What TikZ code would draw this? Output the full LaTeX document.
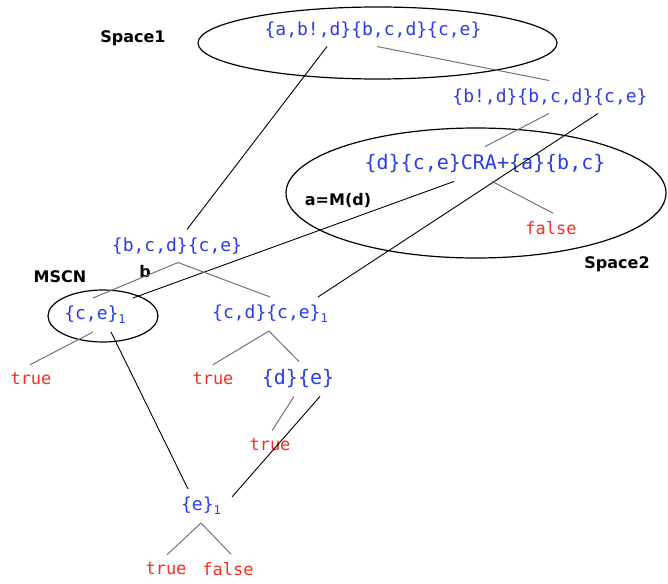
\documentclass[tikz,border=0pt]{standalone}
\usepackage{fontspec}
\newfontfamily\monofam{DejaVu Sans Mono}
\newfontfamily\tagfam{DejaVu Sans}
\definecolor{setblue}{RGB}{40,60,235}
\definecolor{valred}{RGB}{250,45,30}
\newcommand{\subone}{\raisebox{-4pt}{\fontsize{12}{12}\selectfont 1}}

\begin{document}
\begin{tikzpicture}[
            x=1pt, y=-1pt,
            set/.style={text=setblue, font=\monofam\fontsize{18}{20}\selectfont, inner xsep=0pt, inner ysep=8pt},
            big/.style={set, font=\monofam\fontsize{20}{22}\selectfont},
            val/.style={text=valred, font=\monofam\fontsize{17}{19}\selectfont, inner xsep=0pt, inner ysep=8pt},
            tag/.style={font=\tagfam\bfseries\fontsize{16}{18}\selectfont, inner sep=0pt},
            region/.style={draw, line width=1.2pt},
            branch/.style={draw=black!55, line width=1pt},
            jump/.style={draw, line width=0.9pt}
        ]
        \useasboundingbox (0,0) rectangle (668,583);

        \draw[region] (377.5,43) ellipse [x radius=179.5pt, y radius=36pt];
        \draw[region] (476,193) ellipse [x radius=190pt, y radius=65pt];
        \draw[region] (103,316) ellipse [x radius=55pt, y radius=26pt];

        \node[tag] (sp1) at (133,38) {Space1};
        \node[tag] (sp2) at (617,264) {Space2};
        \node[tag] (mscn) at (60,277) {MSCN};
        \node[tag] (lb) at (145,272) {b};
        \node[tag] (lm) at (338,200) {a=M(d)};

        \node[set] (top) at (373,30) {\{a,b!,d\}\{b,c,d\}\{c,e\}};
        \node[set] (bd) at (550,97) {\{b!,d\}\{b,c,d\}\{c,e\}};
        \node[big] (cra) at (485,164) {\{d\}\{c,e\}CRA+\{a\}\{b,c\}};
        \node[val] (f1) at (551,228) {false};
        \node[set] (bcd) at (177,246) {\{b,c,d\}\{c,e\}};
        \node[set] (ce) at (95,315) {\{c,e\}\subone};
        \node[set] (cdce) at (270,314) {\{c,d\}\{c,e\}\subone};
        \node[val] (t1) at (31,379) {true};
        \node[val] (t2) at (213,379) {true};
        \node[big] (de) at (298,379) {\{d\}\{e\}};
        \node[val] (t3) at (270,445) {true};
        \node[set] (e1) at (201,506) {\{e\}\subone};
        \node[val] (t4) at (166,569) {true};
        \node[val] (f2) at (228,569) {false};

        \draw[jump] ([xshift=-46pt]top.south) -- ([xshift=10pt]bcd.north);
        \draw[branch] ([xshift=4pt]top.south) -- ([xshift=-1pt]bd.north);
        \draw[branch] ([xshift=-1pt]bd.south) -- (cra.north);
        \draw[jump] ([xshift=48pt]bd.south) -- ([xshift=48pt]cdce.north);
        \draw[jump] ([xshift=-31pt]cra.south) -- ([xshift=38pt]ce.north);
        \draw[branch] ([xshift=7pt]cra.south) -- ([xshift=2pt]f1.north);
        \draw[branch] ([xshift=1pt]bcd.south) -- ([xshift=-2pt]ce.north);
        \draw[branch] ([xshift=1pt]bcd.south) -- (cdce.north);
        \draw[branch] ([xshift=-2pt]ce.south) -- ([xshift=-1pt]t1.north);
        \draw[jump] ([xshift=16pt]ce.south) -- ([xshift=-13pt]e1.north);
        \draw[branch] ([xshift=-1pt]cdce.south) -- (t2.north);
        \draw[branch] ([xshift=-1pt]cdce.south) -- ([xshift=1pt]de.north);
        \draw[branch] ([xshift=-4pt]de.south) -- ([xshift=2pt]t3.north);
        \draw[jump] ([xshift=22pt]de.south) -- ([xshift=31pt,yshift=-8pt]e1.north);
        \draw[branch] (e1.south) -- ([xshift=1pt]t4.north);
        \draw[branch] (e1.south) -- ([xshift=3pt]f2.north);
\end{tikzpicture}
\end{document}
